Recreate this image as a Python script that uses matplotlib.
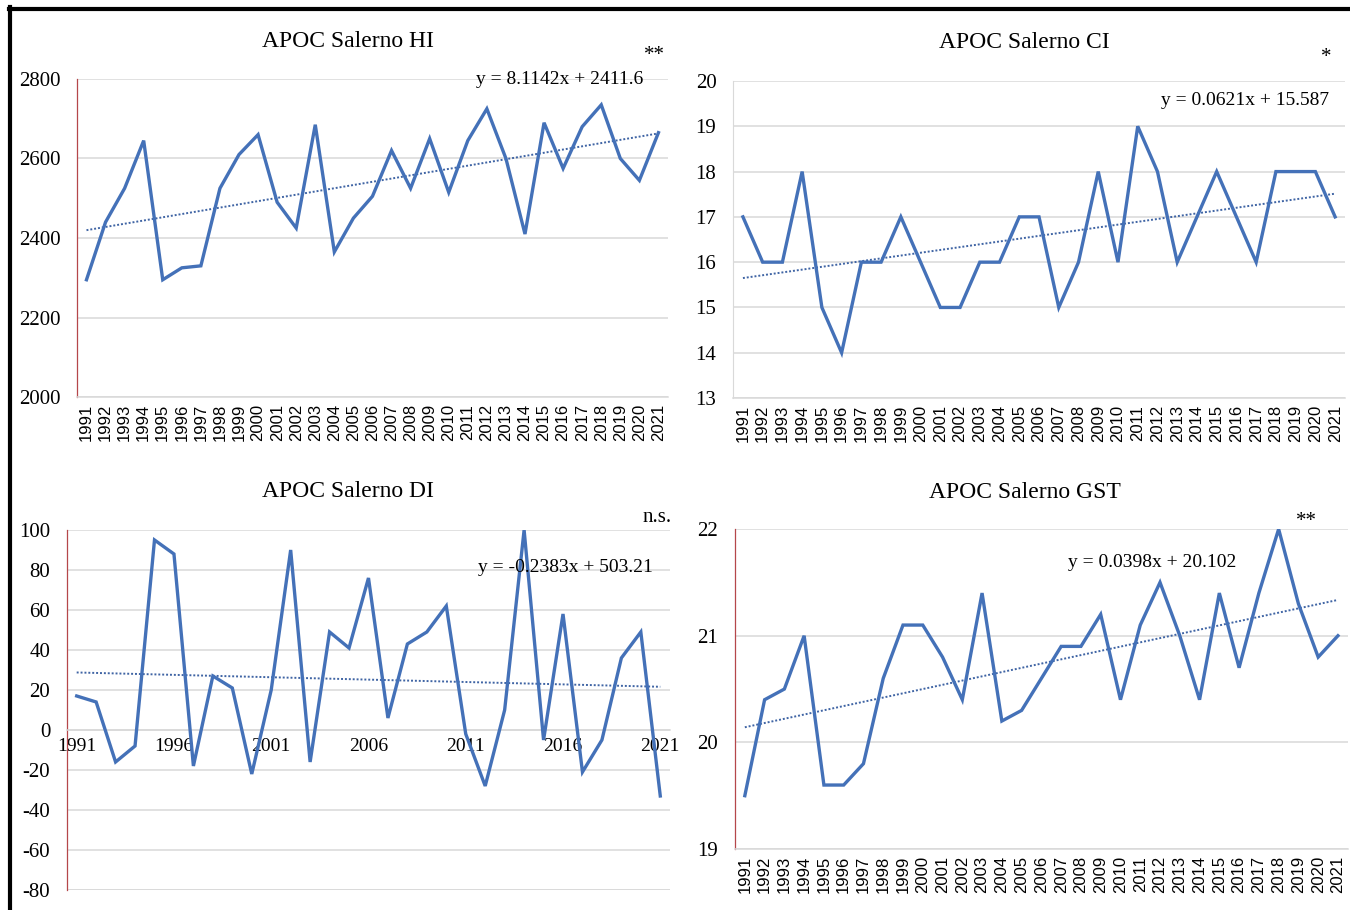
import numpy as np
import matplotlib
matplotlib.use("Agg")
import matplotlib.pyplot as plt
from matplotlib.lines import Line2D

plt.rcParams["axes.unicode_minus"] = False

years = list(range(1991, 2022))

hi_values = [2295, 2440, 2525, 2645, 2295, 2325, 2330, 2525, 2610, 2660,
             2490, 2425, 2685, 2365, 2450, 2505, 2620, 2525, 2650, 2515,
             2645, 2725, 2600, 2410, 2690, 2575, 2680, 2735, 2600, 2545, 2665]
ci_values = [17, 16, 16, 18, 15, 14, 16, 16, 17, 16,
             15, 15, 16, 16, 17, 17, 15, 16, 18, 16,
             19, 18, 16, 17, 18, 17, 16, 18, 18, 18, 17]
di_values = [17, 14, -16, -8, 95, 88, -18, 27, 21, -22,
             20, 90, -16, 49, 41, 76, 6, 43, 49, 62,
             -2, -28, 10, 100, -5, 58, -21, -5, 36, 49, -33]
gst_values = [19.5, 20.4, 20.5, 21.0, 19.6, 19.6, 19.8, 20.6, 21.1, 21.1,
              20.8, 20.4, 21.4, 20.2, 20.3, 20.6, 20.9, 20.9, 21.2, 20.4,
              21.1, 21.5, 21.0, 20.4, 21.4, 20.7, 21.4, 22.0, 21.3, 20.8, 21.0]

# trend equations as printed on the chart (slope, intercept)
hi_trend = (8.1142, 2411.6)
ci_trend = (0.0621, 15.587)
di_trend = (-0.2383, 503.21)   # x is the year here
gst_trend = (0.0398, 20.102)

hi_eq = "y = 8.1142x + 2411.6"
ci_eq = "y = 0.0621x + 15.587"
di_eq = "y = -0.2383x + 503.21"
gst_eq = "y = 0.0398x + 20.102"

LINE = "#4471b8"
TREND = "#3f64a4"
GRID = "#d9d9d9"
SPINE_RED = "#b5474a"
SERIF = "Liberation Serif"
SANS = "Liberation Sans"

fig = plt.figure(figsize=(13.5, 9.1), dpi=100)
fig.patch.set_facecolor("white")


def base_axes(rect, ylim, yticks, red_left=True):
    ax = fig.add_axes(rect)
    ax.set_ylim(*ylim)
    ax.set_yticks(yticks)
    ax.set_xlim(0.5, 31.5)
    ax.grid(axis="y", color=GRID, lw=1.1)
    ax.set_axisbelow(True)
    for s in ["top", "right"]:
        ax.spines[s].set_visible(False)
    ax.spines["bottom"].set_color(GRID)
    ax.spines["bottom"].set_linewidth(1.1)
    if red_left:
        ax.spines["left"].set_color(SPINE_RED)
        ax.spines["left"].set_linewidth(0.9)
    else:
        ax.spines["left"].set_color(GRID)
    ax.tick_params(length=0)
    ax.tick_params(axis="y", pad=12)
    for lab in ax.get_yticklabels():
        lab.set_fontfamily(SERIF)
        lab.set_fontsize(15)
    return ax


def year_ticks(ax):
    ax.set_xticks(range(1, 32))
    ax.set_xticklabels([str(y) for y in years], rotation=90,
                       fontfamily=SANS, fontsize=12)
    ax.tick_params(axis="x", pad=5)


def draw_series(ax, values, trend, use_year=False):
    x = np.arange(1, 32)
    ax.plot(x, values, color=LINE, lw=2.4, solid_joinstyle="miter", zorder=3)
    tx = np.array(years) if use_year else x
    ax.plot(x, trend[0] * tx + trend[1], color=TREND, lw=1.4,
            linestyle=(0, (1, 1)), zorder=2)


# HI
ax1 = base_axes([0.057, 0.5637, 0.4378, 0.3495], (2000, 2800), range(2000, 2801, 200))
draw_series(ax1, hi_values, hi_trend)
year_ticks(ax1)
ax1.text(0.817, 0.997, hi_eq, transform=ax1.transAxes, ha="center", va="center",
         fontfamily=SERIF, fontsize=14)
ax1.text(0.978, 1.075, "**", transform=ax1.transAxes, ha="center", va="center",
         fontfamily=SERIF, fontsize=15)
fig.text(0.258, 0.954, "APOC Salerno HI", ha="center", va="center",
         fontfamily=SERIF, fontsize=17)

# CI
ax2 = base_axes([0.543, 0.5626, 0.4533, 0.3484], (13, 20), range(13, 21), red_left=False)
draw_series(ax2, ci_values, ci_trend)
year_ticks(ax2)
ax2.text(0.837, 0.937, ci_eq, transform=ax2.transAxes, ha="center", va="center",
         fontfamily=SERIF, fontsize=14)
ax2.text(0.97, 1.075, "*", transform=ax2.transAxes, ha="center", va="center",
         fontfamily=SERIF, fontsize=15)
fig.text(0.759, 0.953, "APOC Salerno CI", ha="center", va="center",
         fontfamily=SERIF, fontsize=17)

# DI
ax3 = base_axes([0.0496, 0.022, 0.4467, 0.3956], (-80, 100), range(-80, 101, 20))
draw_series(ax3, di_values, di_trend, use_year=True)
ax3.spines["bottom"].set_position(("data", 0))
ax3.spines["bottom"].set_color(GRID)
ax3.set_xticks(range(1, 32, 5))
ax3.set_xticklabels([str(y) for y in years[::5]], fontfamily=SERIF, fontsize=14)
ax3.tick_params(axis="x", pad=6)
ax3.axhline(-80, color=GRID, lw=1.1, zorder=1)
ax3.text(0.826, 0.897, di_eq, transform=ax3.transAxes, ha="center", va="center",
         fontfamily=SERIF, fontsize=14)
ax3.text(0.978, 1.036, "n.s.", transform=ax3.transAxes, ha="center", va="center",
         fontfamily=SERIF, fontsize=15)
fig.text(0.258, 0.4604, "APOC Salerno DI", ha="center", va="center",
         fontfamily=SERIF, fontsize=17)

# GST
ax4 = base_axes([0.5444, 0.067, 0.454, 0.3516], (19, 22), range(19, 23))
draw_series(ax4, gst_values, gst_trend)
year_ticks(ax4)
ax4.text(0.68, 0.897, gst_eq, transform=ax4.transAxes, ha="center", va="center",
         fontfamily=SERIF, fontsize=14)
ax4.text(0.933, 1.025, "**", transform=ax4.transAxes, ha="center", va="center",
         fontfamily=SERIF, fontsize=15)
fig.text(0.759, 0.459, "APOC Salerno GST", ha="center", va="center",
         fontfamily=SERIF, fontsize=17)

# black frame along top and left edges
fig.add_artist(Line2D([9 / 1350, 1.0], [1 - 8.5 / 910, 1 - 8.5 / 910],
                      transform=fig.transFigure, color="black", lw=3))
fig.add_artist(Line2D([9.5 / 1350, 9.5 / 1350], [0.0, 1 - 7 / 910],
                      transform=fig.transFigure, color="black", lw=3))

fig.savefig("out.png", dpi=100)
